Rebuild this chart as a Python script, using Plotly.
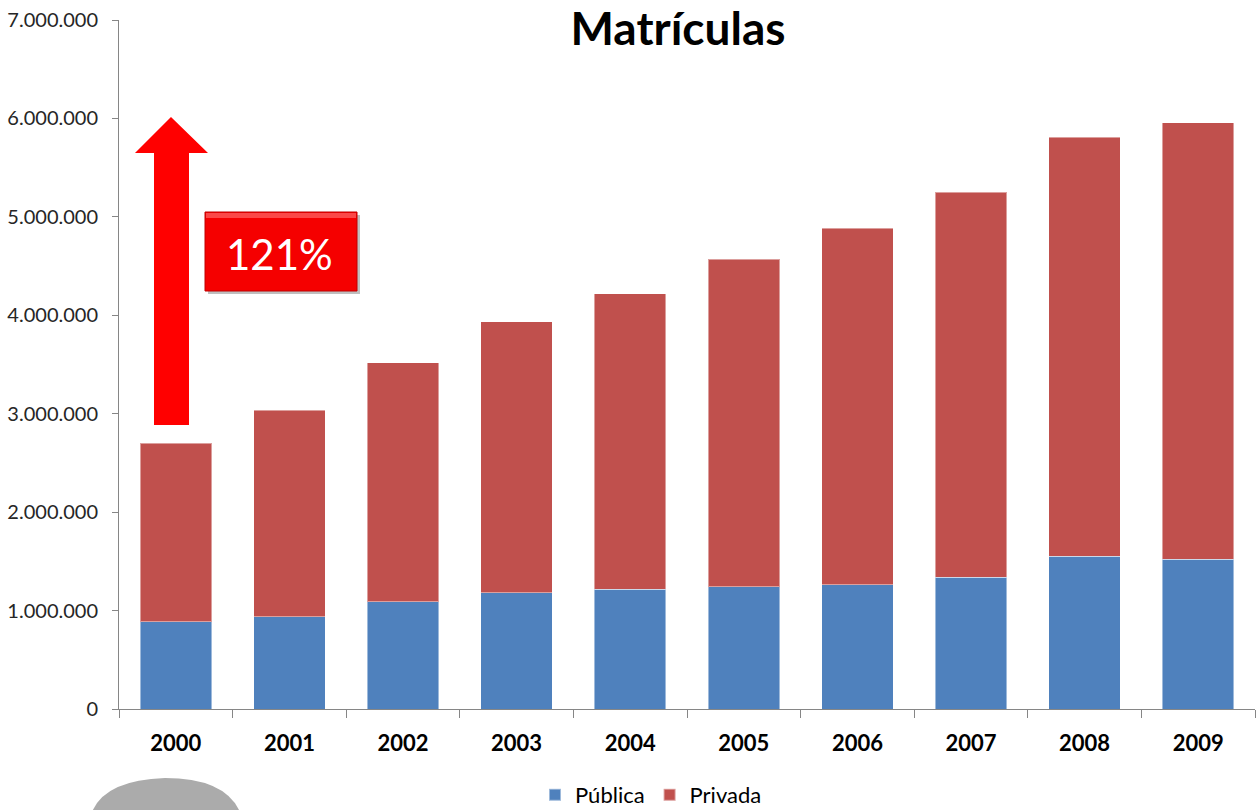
import plotly.graph_objects as go

years = ["2000", "2001", "2002", "2003", "2004", "2005", "2006", "2007", "2008", "2009"]
publica = [885000, 935000, 1088000, 1180000, 1215000, 1240000, 1260000, 1340000, 1552000, 1523000]
privada = [1815000, 2100000, 2432000, 2755000, 3005000, 3330000, 3625000, 3910000, 4258000, 4432000]
y_ticks = [0, 1000000, 2000000, 3000000, 4000000, 5000000, 6000000, 7000000]
growth_label = "121%"

W, H = 1258, 810
L, R, T, B = 119, 3, 20, 101
PW, PH = W - L - R, H - T - B


def px(x):
    return (x - L) / PW


def py(y):
    return (H - B - y) / PH


fig = go.Figure()
fig.add_trace(go.Bar(name="Pública", x=years, y=publica, marker_color="#4F81BD",
                     marker_line=dict(color="rgba(255,255,255,0.45)", width=1)))
fig.add_trace(go.Bar(name="Privada", x=years, y=privada, marker_color="#C0504D",
                     marker_line=dict(color="rgba(255,255,255,0.45)", width=1)))

shapes = []
arrow = [(154, 425), (154, 153), (135, 153), (171, 117), (208, 153), (189, 153), (189, 425)]
path = "M " + " L ".join(f"{px(a):.5f},{py(b):.5f}" for a, b in arrow) + " Z"
shapes.append(dict(type="path", xref="paper", yref="paper", path=path,
                   fillcolor="#FF0000", line=dict(width=0)))
shapes.append(dict(type="rect", xref="paper", yref="paper",
                   x0=px(208), x1=px(360), y0=py(294), y1=py(215),
                   fillcolor="rgba(0,0,0,0.25)", line=dict(width=0)))
shapes.append(dict(type="rect", xref="paper", yref="paper",
                   x0=px(205), x1=px(357), y0=py(291), y1=py(212),
                   fillcolor="#F50000", line=dict(color="#C00000", width=1)))
shapes.append(dict(type="rect", xref="paper", yref="paper",
                   x0=px(206), x1=px(356), y0=py(218), y1=py(213),
                   fillcolor="rgba(255,120,120,0.6)", line=dict(width=0)))
blob = "M {a},{b} Q {c},{d} {e},{f} Q {g},{h} {i},{j} Z".format(
    a=f"{px(92):.5f}", b=f"{py(812):.5f}",
    c=f"{px(105):.5f}", d=f"{py(780):.5f}",
    e=f"{px(165):.5f}", f=f"{py(778):.5f}",
    g=f"{px(225):.5f}", h=f"{py(778):.5f}",
    i=f"{px(240):.5f}", j=f"{py(812):.5f}")
shapes.append(dict(type="path", xref="paper", yref="paper", path=blob,
                   fillcolor="#ABABAB", line=dict(width=0)))

fig.update_layout(
    width=W, height=H,
    barmode="stack", bargap=0.37,
    separators=",.",
    margin=dict(l=L, r=R, t=T, b=B, pad=0, autoexpand=False),
    paper_bgcolor="white", plot_bgcolor="white",
    font=dict(family="Lato, Carlito, Open Sans, sans-serif", color="#000000"),
    title=dict(text="<b>Matrículas</b>", x=px(678), xanchor="center", xref="paper",
               y=1 - 29 / H, yanchor="middle", font=dict(size=46, color="#000000")),
    showlegend=True,
    legend=dict(orientation="h", x=px(651), xanchor="center", y=py(795), yanchor="middle",
                font=dict(size=22, color="#000000"), traceorder="normal",
                itemsizing="constant"),
    xaxis=dict(type="category", showline=True, linecolor="#868686", linewidth=1,
               ticks="outside", tickson="boundaries", ticklen=8, tickcolor="#868686",
               ticklabelstandoff=15,
               tickfont=dict(size=22, color="#000000", family="Lato, sans-serif", weight="bold"),
               showgrid=False, range=[-0.5, 9.5]),
    yaxis=dict(range=[0, 7000000], tickvals=y_ticks, tickformat=",d", showline=True,
               linecolor="#868686", linewidth=1, ticks="outside", ticklen=6,
               tickcolor="#868686", showgrid=False, zeroline=False,
               ticklabelstandoff=10, ticklabeloverflow="allow",
               tickfont=dict(size=20, color="#262626")),
    shapes=shapes,
    annotations=[dict(text=growth_label, xref="paper", yref="paper",
                      x=px(279), y=py(254), xanchor="center", yanchor="middle",
                      showarrow=False, font=dict(size=42, color="white",
                                                 family="Lato, sans-serif"))],
)

fig.write_html("out.html", config={"displayModeBar": False},
               post_script="document.body.style.margin='0';")
